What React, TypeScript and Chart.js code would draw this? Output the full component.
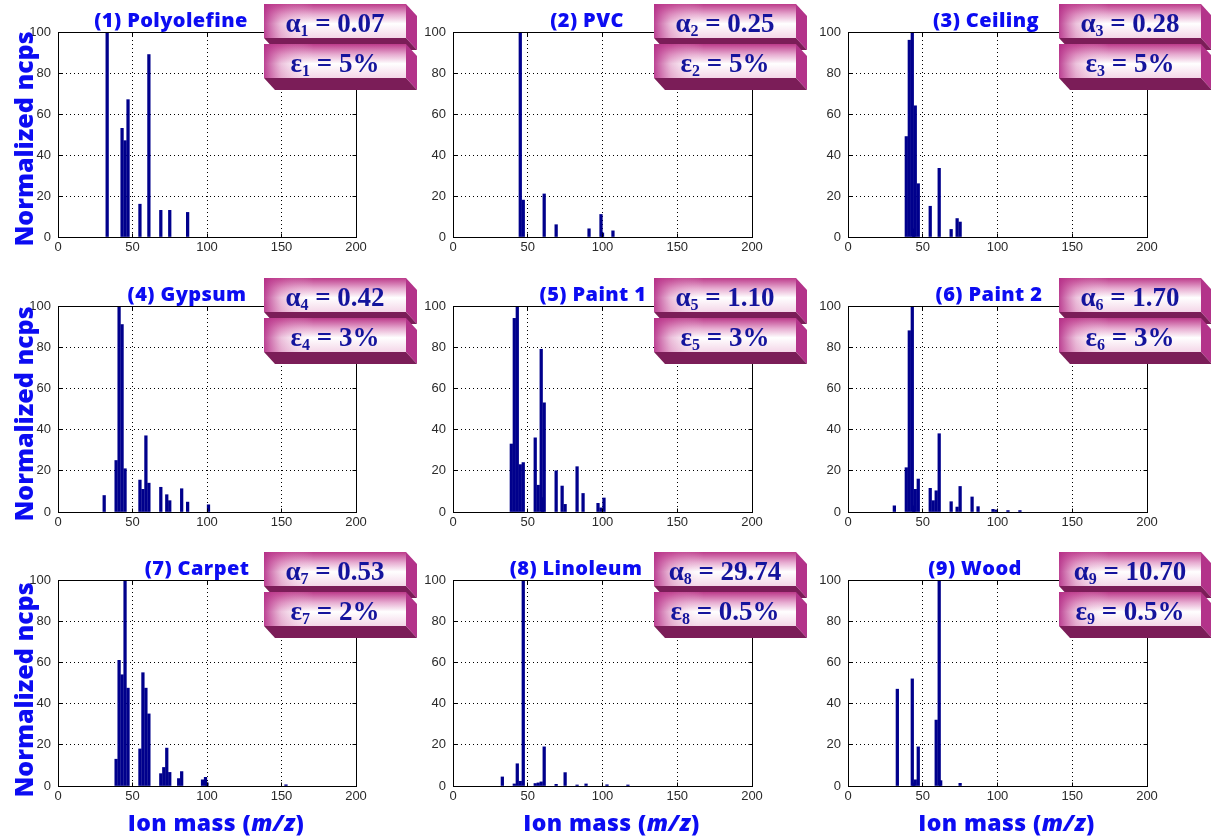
import React, { useEffect, useRef } from 'react';
import { Chart, registerables } from 'chart.js';

Chart.register(...registerables);

// ---------------- data ----------------
const panelTitles = ['(1) Polyolefine', '(2) PVC', '(3) Ceiling', '(4) Gypsum', '(5) Paint 1', '(6) Paint 2', '(7) Carpet', '(8) Linoleum', '(9) Wood'];
const alphaValues = ['0.07', '0.25', '0.28', '0.42', '1.10', '1.70', '0.53', '29.74', '10.70'];
const epsilonValues = ['5%', '5%', '5%', '3%', '3%', '3%', '2%', '0.5%', '0.5%'];
const xTickValues = [0, 50, 100, 150, 200];
const yTickValues = [0, 20, 40, 60, 80, 100];
const yAxisTitle = 'Normalized ncps';
const xAxisTitleParts = ['Ion mass (', 'm/z', ')'];

const mzPolyolefine = [33, 43, 45, 47, 55, 61, 69, 75, 87];
const ncpsPolyolefine = [100, 53, 47, 67, 16, 89, 13, 13, 12];

const mzPVC = [45, 47, 61, 69, 91, 99, 100, 107];
const ncpsPVC = [100, 18, 21, 6, 4, 11, 2, 3];

const mzCeiling = [39, 41, 43, 44, 45, 47, 55, 61, 69, 73, 75];
const ncpsCeiling = [49, 96, 100, 4, 64, 26, 15, 33.5, 3.7, 9, 7.3];

const mzGypsum = [31, 39, 41, 43, 45, 55, 57, 59, 61, 69, 73, 75, 83, 87, 101];
const ncpsGypsum = [8, 25, 100, 91, 21, 15.5, 11, 37, 14, 12, 8.4, 5.5, 11.3, 4.8, 3.5];

const mzPaint1 = [39, 41, 43, 45, 47, 55, 57, 59, 60, 61, 69, 73, 75, 83, 87, 97, 99, 101];
const ncpsPaint1 = [33, 94, 100, 23, 24, 36, 13, 79, 7, 53, 20, 12.6, 3.7, 22, 9, 4.2, 2, 6.8];

const mzPaint2 = [31, 39, 41, 43, 44, 45, 47, 55, 57, 59, 61, 69, 73, 75, 83, 87, 97, 99, 107, 115];
const ncpsPaint2 = [3, 21.5, 88, 100, 3, 11, 16, 11.5, 5.5, 10.3, 38, 5, 2.4, 12.4, 7.3, 2.6, 1.3, 1, 0.7, 0.7];

const mzCarpet = [39, 41, 43, 45, 47, 55, 57, 59, 61, 69, 71, 73, 75, 81, 83, 97, 99, 100, 153];
const ncpsCarpet = [13, 61, 54, 100, 47.5, 18, 55, 47.5, 35, 6, 9, 18.4, 6.6, 3.6, 7, 3, 4.2, 1.5, 0.6];

const mzLinoleum = [33, 41, 43, 45, 47, 55, 57, 59, 61, 69, 75, 83, 89, 103, 117];
const ncpsLinoleum = [4.4, 1, 10.8, 2.3, 100, 1.2, 1.5, 2, 19, 0.8, 6.5, 0.5, 1, 0.6, 0.5];

const mzWood = [33, 43, 44, 45, 47, 59, 61, 62, 75];
const ncpsWood = [47, 52, 1.5, 3, 19, 32, 100, 2.6, 1.3];

const panelMz = [mzPolyolefine, mzPVC, mzCeiling, mzGypsum, mzPaint1, mzPaint2, mzCarpet, mzLinoleum, mzWood];
const panelNcps = [ncpsPolyolefine, ncpsPVC, ncpsCeiling, ncpsGypsum, ncpsPaint1, ncpsPaint2, ncpsCarpet, ncpsLinoleum, ncpsWood];

// ---------------- layout ----------------
const PLOT_LEFT = [58, 453, 848];
const PLOT_RIGHT = [356, 752, 1147];
const PLOT_TOP = [32, 306, 580];
const PLOT_BOTTOM = [237, 512, 786];
const BOX_LEFT = [264, 654, 1059];
const TITLE_CENTER = [171, 587, 986, 187, 593, 989, 197, 576, 975];
const Y_TITLE_SHIFT = [4.5, 5, 7];

const AXIS_W = 58;
const TOP_PAD = 40;
const BOTTOM_H = 54;
const RIGHT_PAD = 64;

const BAR_COLOR = '#00008c';
const TITLE_COLOR = '#0c0cf2';
const BOX_TEXT = '#14149c';

function drawBox(ctx: CanvasRenderingContext2D, x: number, y: number, w: number, h: number, sym: string, sub: string, value: string) {
  const dx = 11, dy = 12;
  // side face
  ctx.fillStyle = '#b3338a';
  ctx.beginPath();
  ctx.moveTo(x + w, y);
  ctx.lineTo(x + w + dx, y + dy);
  ctx.lineTo(x + w + dx, y + h + dy);
  ctx.lineTo(x + w, y + h);
  ctx.closePath();
  ctx.fill();
  // bottom face
  ctx.fillStyle = '#7b1d58';
  ctx.beginPath();
  ctx.moveTo(x, y + h);
  ctx.lineTo(x + w, y + h);
  ctx.lineTo(x + w + dx, y + h + dy);
  ctx.lineTo(x + dx, y + h + dy);
  ctx.closePath();
  ctx.fill();
  // front face
  const gv = ctx.createLinearGradient(0, y, 0, y + h);
  gv.addColorStop(0, '#bc3a8a');
  gv.addColorStop(0.3, '#e6a9cf');
  gv.addColorStop(0.58, '#ffffff');
  gv.addColorStop(1, '#f4d6e8');
  ctx.fillStyle = gv;
  ctx.fillRect(x, y, w, h);
  const gh = ctx.createLinearGradient(x, 0, x + w, 0);
  gh.addColorStop(0, 'rgba(180,45,135,0.9)');
  gh.addColorStop(0.12, 'rgba(200,80,155,0.35)');
  gh.addColorStop(0.35, 'rgba(255,255,255,0)');
  gh.addColorStop(1, 'rgba(255,255,255,0)');
  ctx.fillStyle = gh;
  ctx.fillRect(x, y, w, h);
  // text
  const big = 'bold 27px "Liberation Serif"';
  const small = 'bold 16px "Liberation Serif"';
  ctx.font = big;
  const w1 = ctx.measureText(sym).width;
  const w3 = ctx.measureText(' = ' + value).width;
  ctx.font = small;
  const w2 = ctx.measureText(sub).width;
  const total = w1 + w2 + w3;
  let tx = x + w / 2 - total / 2;
  const by = y + 28;
  ctx.fillStyle = BOX_TEXT;
  ctx.textAlign = 'left';
  ctx.textBaseline = 'alphabetic';
  ctx.font = big;
  ctx.fillText(sym, tx, by);
  tx += w1;
  ctx.font = small;
  ctx.fillText(sub, tx, by + 4);
  tx += w2;
  ctx.font = big;
  ctx.fillText(' = ' + value, tx, by);
}

function Panel({ index }: { index: number }) {
  const ref = useRef<HTMLCanvasElement>(null);
  const row = Math.floor(index / 3);
  const col = index % 3;
  const left = PLOT_LEFT[col] - AXIS_W;
  const top = PLOT_TOP[row] - TOP_PAD;
  const width = PLOT_RIGHT[col] - PLOT_LEFT[col] + AXIS_W + RIGHT_PAD;
  const height = PLOT_BOTTOM[row] - PLOT_TOP[row] + TOP_PAD + BOTTOM_H;

  useEffect(() => {
    const canvas = ref.current;
    if (!canvas) return;
    const points = panelMz[index].map((m, i) => ({ x: m, y: panelNcps[index][i] }));
    const tickFont = { family: '"Liberation Sans", Arial, sans-serif', size: 13 };

    const deco = {
      id: 'deco',
      afterDatasetsDraw(chart: any) {
        const { ctx, chartArea: a, scales } = chart;
        ctx.save();
        const L = Math.floor(a.left) + 0.5;
        const T = Math.floor(a.top) + 0.5;
        const R = Math.floor(a.right) + 0.5;
        const B = Math.floor(a.bottom) + 0.5;
        ctx.strokeStyle = '#000';
        ctx.lineWidth = 1;
        ctx.setLineDash([]);
        ctx.strokeRect(L, T, R - L, B - T);
        ctx.beginPath();
        xTickValues.slice(1, -1).forEach((v) => {
          const px = Math.floor(scales.x.getPixelForValue(v)) + 0.5;
          ctx.moveTo(px, B); ctx.lineTo(px, B - 4);
          ctx.moveTo(px, T); ctx.lineTo(px, T + 4);
        });
        yTickValues.slice(1, -1).forEach((v) => {
          const py = Math.floor(scales.y.getPixelForValue(v)) + 0.5;
          ctx.moveTo(L, py); ctx.lineTo(L + 4, py);
          ctx.moveTo(R, py); ctx.lineTo(R - 4, py);
        });
        ctx.stroke();
        ctx.restore();
      },
      afterDraw(chart: any) {
        const { ctx, chartArea: a } = chart;
        ctx.save();
        // panel title
        ctx.font = '800 20px "Open Sans"';
        (ctx as any).letterSpacing = '0.4px';
        ctx.fillStyle = TITLE_COLOR;
        ctx.textAlign = 'center';
        ctx.textBaseline = 'alphabetic';
        ctx.fillText(panelTitles[index], TITLE_CENTER[index] - left, a.top - 5);
        (ctx as any).letterSpacing = '0px';
        // boxes
        const bx = BOX_LEFT[col] - left;
        drawBox(ctx, bx, a.top - 28, 142, 34, 'α', String(index + 1), alphaValues[index]);
        drawBox(ctx, bx, a.top + 12, 142, 34, 'ε', String(index + 1), epsilonValues[index]);
        // y axis title
        if (col === 0) {
          ctx.save();
          ctx.translate(33, (a.top + a.bottom) / 2 + Y_TITLE_SHIFT[row]);
          ctx.rotate(-Math.PI / 2);
          ctx.font = '800 25px "Open Sans"';
          ctx.fillStyle = TITLE_COLOR;
          ctx.textAlign = 'center';
          ctx.textBaseline = 'alphabetic';
          ctx.fillText(yAxisTitle, 0, 0);
          ctx.restore();
        }
        // x axis title
        if (row === 2) {
          const fonts = ['800 23px "Open Sans"', 'italic 800 23px "Open Sans"', '800 23px "Open Sans"'];
          (ctx as any).letterSpacing = '0.4px';
          const widths = xAxisTitleParts.map((t, i) => { ctx.font = fonts[i]; return ctx.measureText(t).width; });
          const total = widths.reduce((s, v) => s + v, 0);
          let tx = (a.left + a.right) / 2 + 9 - total / 2;
          ctx.fillStyle = TITLE_COLOR;
          ctx.textAlign = 'left';
          ctx.textBaseline = 'alphabetic';
          xAxisTitleParts.forEach((t, i) => {
            ctx.font = fonts[i];
            ctx.fillText(t, tx, a.bottom + 45);
            tx += widths[i];
          });
          (ctx as any).letterSpacing = '0px';
        }
        ctx.restore();
      },
    };

    const chart = new Chart(canvas, {
      type: 'bar',
      data: {
        datasets: [{
          data: points,
          backgroundColor: BAR_COLOR,
          borderWidth: 0,
          barThickness: 2.6,
        }],
      },
      options: {
        responsive: false,
        maintainAspectRatio: false,
        animation: false,
        events: [],
        layout: { padding: { left: 0, top: TOP_PAD, right: RIGHT_PAD, bottom: 0 } },
        plugins: { legend: { display: false }, tooltip: { enabled: false }, title: { display: false } },
        scales: {
          x: {
            type: 'linear',
            min: xTickValues[0],
            max: xTickValues[xTickValues.length - 1],
            offset: false,
            afterFit: (s: any) => { s.height = BOTTOM_H; },
            ticks: { stepSize: 50, padding: 3, color: '#2a2a2a', font: tickFont, maxRotation: 0, autoSkip: false },
            grid: { offset: false, drawTicks: false, color: '#000', lineWidth: 1 },
            border: { display: false, dash: [1, 3] },
          },
          y: {
            min: yTickValues[0],
            max: yTickValues[yTickValues.length - 1],
            afterFit: (s: any) => { s.width = AXIS_W; },
            ticks: { stepSize: 20, padding: 7, color: '#2a2a2a', font: tickFont, autoSkip: false },
            grid: { drawTicks: false, color: '#000', lineWidth: 1 },
            border: { display: false, dash: [1, 3] },
          },
        },
      },
      plugins: [deco],
    } as any);
    return () => chart.destroy();
  }, [index]);

  return (
    <canvas
      ref={ref}
      width={width}
      height={height}
      style={{ position: 'absolute', left, top, width, height }}
    />
  );
}

export default function App() {
  return (
    <div style={{ position: 'absolute', left: 0, top: 0, width: 1216, height: 840, overflow: 'hidden', background: '#fff' }}>
      {panelTitles.map((_, i) => <Panel key={i} index={i} />)}
    </div>
  );
}
